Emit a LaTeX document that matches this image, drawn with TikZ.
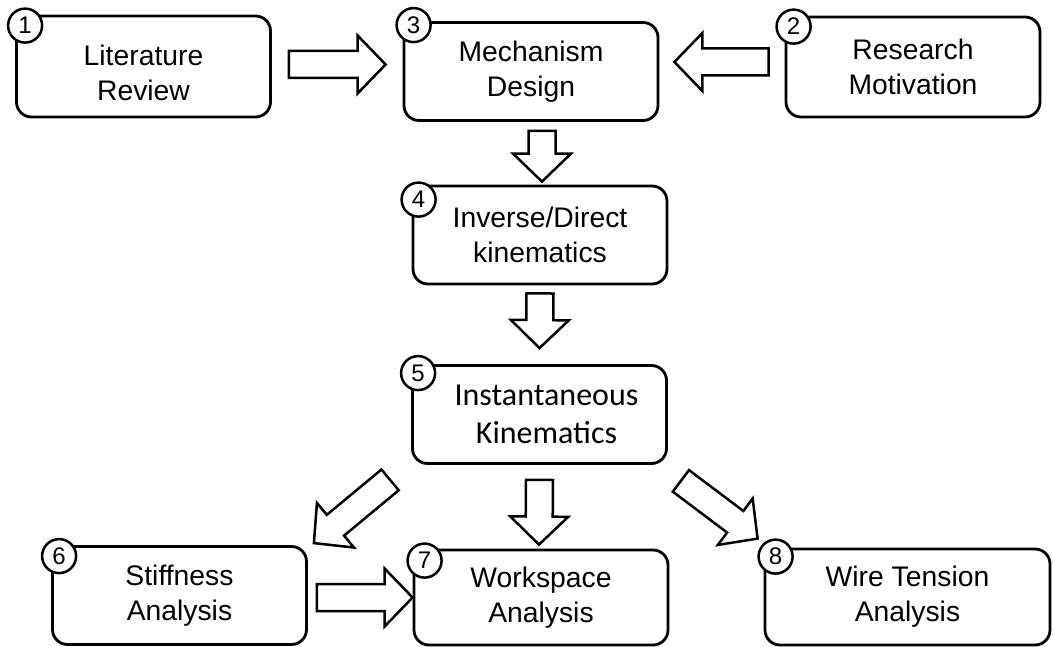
\documentclass[tikz,border=0pt]{standalone}
\usepackage{fontspec}
\setmainfont{Liberation Sans}
\newfontfamily\calibri{Carlito}
\usetikzlibrary{calc}

\tikzset{
  stage/.style={draw, line width=2.8pt, rounded corners=15pt, fill=white, align=center,
    inner sep=0pt, minimum width=254pt, minimum height=98pt,
    font=\fontsize{28.3}{35}\selectfont},
  badge/.style={circle, draw, line width=2.5pt, fill=white, minimum size=34pt,
    inner sep=0pt, font=\fontsize{24}{24}\selectfont},
  fat/.style={draw, line width=2.5pt, fill=white, line join=miter}
}

\newcommand{\fatarrow}[2]{%
  \coordinate (fa-s) at (#1);
  \coordinate (fa-t) at (#2);
  \coordinate (fa-b) at ($(fa-t)!28pt!(fa-s)$);
  \draw[fat] ($(fa-s)!13.5pt!90:(fa-t)$) -- ($(fa-b)!13.5pt!90:(fa-t)$)
    -- ($(fa-b)!29pt!90:(fa-t)$) -- (fa-t) -- ($(fa-b)!29pt!-90:(fa-t)$)
    -- ($(fa-b)!13.5pt!-90:(fa-t)$) -- ($(fa-s)!13.5pt!-90:(fa-t)$) -- cycle;
}

\begin{document}
\begin{tikzpicture}[x=1pt,y=-1pt]
\useasboundingbox (0,0) rectangle (1053,647);

\node[stage, minimum height=101pt] (lit) at (143.5,66.5) {\rule{0pt}{33pt}Literature\\Review};
\node[stage] (mech) at (531,71.5) {Mechanism\\Design};
\node[stage, minimum height=100pt] (res) at (913,67) {Research\\Motivation};
\node[stage] (inv) at (540,235) {Inverse/Direct\\kinematics};
\node[stage, font=\calibri\fontsize{32}{38}\selectfont] (inst) at (539.5,414.5)
  {\hspace*{14pt}Instantaneous\\\hspace*{14pt}Kinematics};
\node[stage] (stiff) at (179.5,595.5) {Stiffness\\Analysis};
\node[stage, minimum height=95pt] (work) at (541,597.5) {Workspace\\Analysis};
\node[stage, minimum width=285pt, minimum height=96pt] (wire) at (907.5,597) {Wire Tension\\Analysis};

\foreach \n/\b/\dx/\dy in {1/lit/10/11,2/res/9/11,3/mech/11/4,4/inv/7/15,
    5/inst/7/9,6/stiff/8/11,7/work/12/12,8/wire/12/9}
  \node[badge] (badge\n) at ([shift={(\dx,\dy)}]\b.north west) {\n};

\fatarrow{$(lit.east)+(17,-2)$}{$(mech.west |- lit.east)+(-17,-2)$}
\fatarrow{$(res.west)+(-16,-5)$}{$(mech.east |- res.west)+(15,-5)$}
\fatarrow{$(inv.north |- mech.south)+(2,9)$}{$(inv.north)+(2,-3)$}
\fatarrow{$(inv.south)+(0,8)$}{$(inst.north)+(0,-16)$}
\fatarrow{$(inst.south)+(0,15)$}{$(work.north)+(-2,-4)$}
\fatarrow{$(inst.south west)+(-21,15)$}{$(stiff.north east)+(6,-2)$}
\fatarrow{$(inst.south east)+(13,16)$}{$(wire.north west)+(-6,-9)$}
\fatarrow{$(stiff.east)+(9,2)$}{$(work.west)$}
\end{tikzpicture}
\end{document}
